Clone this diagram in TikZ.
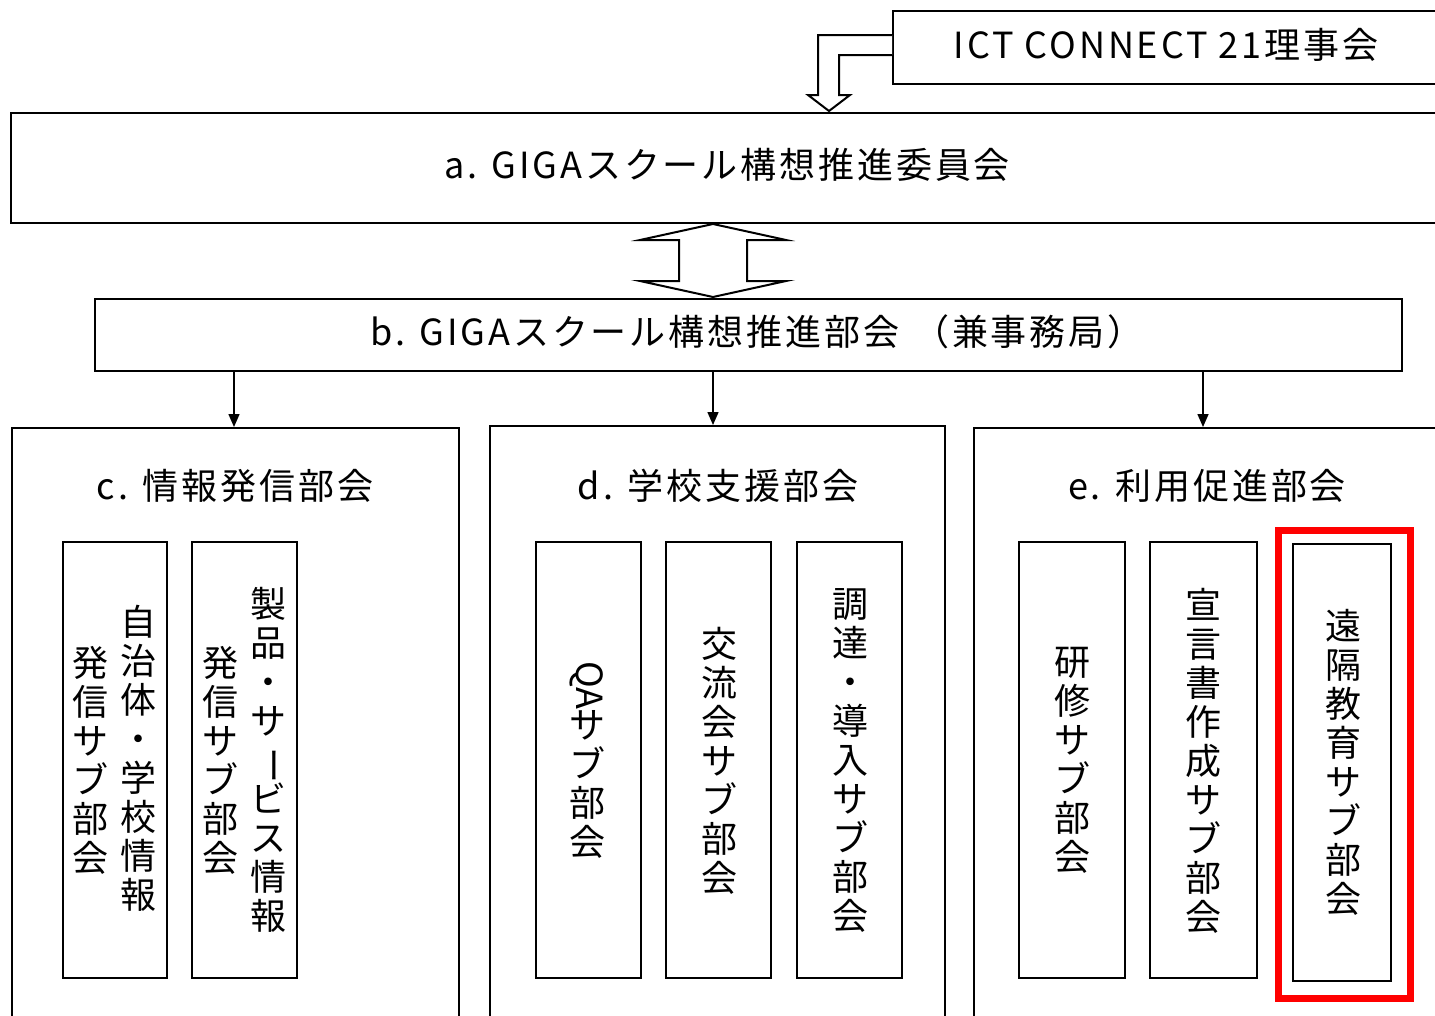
\documentclass[tikz,border=0pt]{standalone}
\usepackage{fontspec}
\usepackage{graphicx}
\setmainfont{Noto Sans CJK JP}
\usetikzlibrary{arrows.meta}
\newcommand{\vbar}{\smash{\rotatebox[origin=c]{-90}{ー}}}
\tikzset{
  box/.style={draw, line width=2pt, inner sep=0pt, anchor=north west},
  subbox/.style={draw, line width=2.2pt, inner sep=0pt, anchor=north west, minimum height=436pt},
  htxt/.style={font=\fontsize{36}{40}\selectfont\addfontfeatures{LetterSpace=8}, inner sep=0pt},
  vtxt/.style={font=\fontsize{36}{39}\selectfont, align=center, inner sep=0pt},
  blockarrow/.style={draw, line width=2pt, fill=white, line join=miter},
  conn/.style={line width=1.5pt, -{Triangle[length=13pt,width=11pt]}},
  hilite/.style={draw=red, line width=7pt, inner sep=0pt, anchor=north west},
}
\begin{document}
\begin{tikzpicture}[x=1pt, y=-1pt]
\useasboundingbox (0,0) rectangle (1435,1015);
\clip (0,0) rectangle (1435,1015);
\fill[white] (0,0) rectangle (1435,1015);

% top boxes
\node[box, minimum width=600pt, minimum height=73pt] (ict) at (892,10) {};
\node[htxt] (icttxt) at (1166,45) {ICT CONNECT 21理事会};

\node[box, minimum width=1480pt, minimum height=110pt] (a) at (10,112) {};
\node[htxt] (atxt) at (727,165) {a. GIGAスクール構想推進委員会};

\node[box, minimum width=1307pt, minimum height=72pt] (b) at (94,298) {};
\node[htxt] (btxt) at (757,332) {b. GIGAスクール構想推進部会\hspace{14pt}（兼事務局）};

% elbow block arrow from ICT to a
\draw[blockarrow] (892,35) -- (818,35) -- (818,95) -- (808,95) -- (829,111)
  -- (850,95) -- (839,95) -- (839,55) -- (892,55);

% double block arrow between a and b
\draw[blockarrow] (713,224) -- (786,240) -- (747,240) -- (747,281) -- (786,281)
  -- (713,297) -- (640,281) -- (679,281) -- (679,240) -- (640,240) -- cycle;

% department boxes
\node[box, minimum width=447pt, minimum height=650pt] (c) at (11,427) {};
\node[htxt] (ctxt) at (235,486) {c. 情報発信部会};
\node[box, minimum width=455pt, minimum height=650pt] (d) at (489,425) {};
\node[htxt] (dtxt) at (718,486) {d. 学校支援部会};
\node[box, minimum width=600pt, minimum height=650pt] (e) at (973,427) {};
\node[htxt] (etxt) at (1207,486) {e. 利用促進部会};

% connectors
\coordinate (ctop) at (234,427);
\coordinate (dtop) at (713,425);
\coordinate (etop) at (1203,427);
\draw[conn] (b.south -| ctop) -- (ctop);
\draw[conn] (b.south -| dtop) -- (dtop);
\draw[conn] (b.south -| etop) -- (etop);

% sub committees
\node[subbox, minimum width=104pt] (c1) at (62,541) {};
\node[subbox, minimum width=105pt] (c2) at (191,541) {};
\node[subbox, minimum width=105pt] (d1) at (535,541) {};
\node[subbox, minimum width=105pt] (d2) at (665,541) {};
\node[subbox, minimum width=105pt] (d3) at (796,541) {};
\node[subbox, minimum width=106pt] (e1) at (1018,541) {};
\node[subbox, minimum width=107pt] (e2) at (1149,541) {};
\node[subbox, minimum width=98pt, minimum height=437pt] (e3) at (1292,543) {};
\node[hilite, minimum width=132pt, minimum height=468pt] (hl) at (1275,527) {};

% vertical texts
\node[vtxt] (c1a) at (138,758) {自\\治\\体\\・\\学\\校\\情\\報};
\node[vtxt] (c1b) at (90,760) {発\\信\\サ\\ブ\\部\\会};
\node[vtxt] (c2a) at (268,760) {製\\品\\・\\サ\\\vbar\\ビ\\ス\\情\\報};
\node[vtxt] (c2b) at (220,760) {発\\信\\サ\\ブ\\部\\会};
\node[vtxt] (d1t) at (587,760) {\rotatebox[origin=c]{-90}{QA}\\サ\\ブ\\部\\会};
\node[vtxt] (d2t) at (719,761) {交\\流\\会\\サ\\ブ\\部\\会};
\node[vtxt] (d3t) at (850,760) {調\\達\\・\\導\\入\\サ\\ブ\\部\\会};
\node[vtxt] (e1t) at (1072,760) {研\\修\\サ\\ブ\\部\\会};
\node[vtxt] (e2t) at (1203,761) {宣\\言\\書\\作\\成\\サ\\ブ\\部\\会};
\node[vtxt] (e3t) at (1343,762) {遠\\隔\\教\\育\\サ\\ブ\\部\\会};
\end{tikzpicture}
\end{document}
